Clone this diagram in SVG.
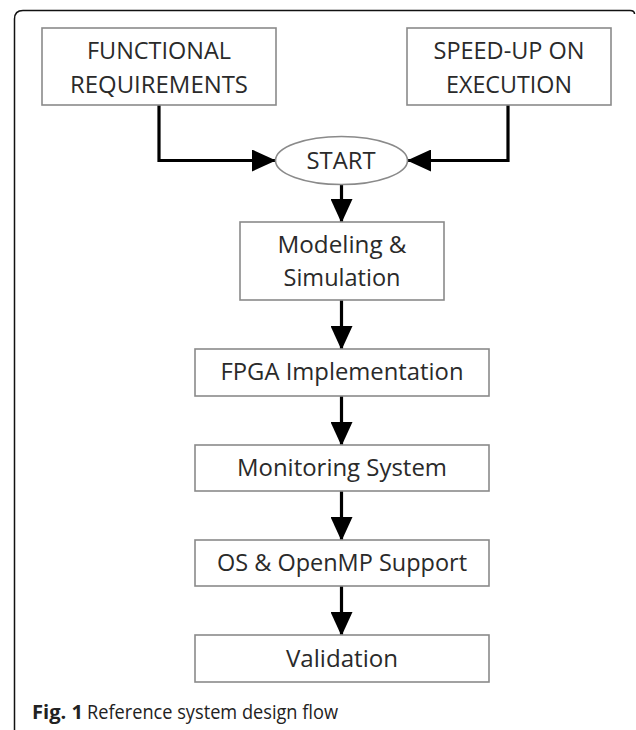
<svg xmlns="http://www.w3.org/2000/svg" width="636" height="730" viewBox="0 0 636 730">
<defs>
<style>
.box{fill:#fff;stroke:#8a8a8a;stroke-width:1.6}
.lbl{font-family:"Open Sans","Liberation Sans",sans-serif;font-size:23px;fill:#2a2a2a;text-anchor:middle}
.conn{fill:none;stroke:#000;stroke-width:3.2}
.cap{font-family:"Open Sans","Liberation Sans",sans-serif;font-size:20px;fill:#222}
</style>
<marker id="ah" viewBox="0 0 24 22" refX="23" refY="11" markerWidth="24" markerHeight="22" markerUnits="userSpaceOnUse" orient="auto">
<path d="M0,0 L24,11 L0,22 Z" fill="#000"/>
</marker>
</defs>
<rect width="636" height="730" fill="#fff"/>
<path d="M14.5,730 V19 Q14.5,10.5 23,10.5 H630 Q634.5,10.5 634.5,14" fill="none" stroke="#111" stroke-width="1.5"/>
<g id="connectors">
<path class="conn" d="M159,105 V160.5 H275" marker-end="url(#ah)"/>
<path class="conn" d="M508,105 V160.5 H408" marker-end="url(#ah)"/>
<path class="conn" d="M341.5,184 V222" marker-end="url(#ah)"/>
<path class="conn" d="M341.5,300 V349" marker-end="url(#ah)"/>
<path class="conn" d="M341.5,396 V445" marker-end="url(#ah)"/>
<path class="conn" d="M341.5,491 V540" marker-end="url(#ah)"/>
<path class="conn" d="M341.5,586 V635" marker-end="url(#ah)"/>
</g>
<g id="functional">
<rect class="box" x="42" y="28" width="234" height="77"/>
<text class="lbl" x="159" y="59" textLength="144" lengthAdjust="spacingAndGlyphs">FUNCTIONAL</text>
<text class="lbl" x="159" y="93" textLength="178" lengthAdjust="spacingAndGlyphs">REQUIREMENTS</text>
</g>
<g id="speedup">
<rect class="box" x="407" y="28" width="204" height="77"/>
<text class="lbl" x="509" y="59" textLength="151" lengthAdjust="spacingAndGlyphs">SPEED-UP ON</text>
<text class="lbl" x="509" y="93" textLength="126" lengthAdjust="spacingAndGlyphs">EXECUTION</text>
</g>
<g id="start">
<ellipse cx="341.5" cy="160.5" rx="66" ry="24" fill="#fff" stroke="#8a8a8a" stroke-width="1.6"/>
<text class="lbl" x="341" y="169" textLength="69" lengthAdjust="spacingAndGlyphs">START</text>
</g>
<g id="modeling">
<rect class="box" x="240" y="222" width="204" height="78"/>
<text class="lbl" x="342" y="253" textLength="129" lengthAdjust="spacingAndGlyphs">Modeling &amp;</text>
<text class="lbl" x="342" y="286" textLength="117" lengthAdjust="spacingAndGlyphs">Simulation</text>
</g>
<g id="fpga">
<rect class="box" x="195" y="349" width="294" height="47"/>
<text class="lbl" x="342" y="380" textLength="243" lengthAdjust="spacingAndGlyphs">FPGA Implementation</text>
</g>
<g id="monitoring">
<rect class="box" x="195" y="445" width="294" height="46"/>
<text class="lbl" x="342" y="476" textLength="210" lengthAdjust="spacingAndGlyphs">Monitoring System</text>
</g>
<g id="os">
<rect class="box" x="195" y="540" width="294" height="46"/>
<text class="lbl" x="342" y="571" textLength="250" lengthAdjust="spacingAndGlyphs">OS &amp; OpenMP Support</text>
</g>
<g id="validation">
<rect class="box" x="195" y="635" width="294" height="47"/>
<text class="lbl" x="342" y="667" textLength="112" lengthAdjust="spacingAndGlyphs">Validation</text>
</g>
<g id="caption">
<text class="cap" x="32" y="719" font-weight="bold" textLength="51" lengthAdjust="spacingAndGlyphs">Fig. 1</text>
<text class="cap" x="87" y="719" textLength="251" lengthAdjust="spacingAndGlyphs">Reference system design flow</text>
</g>
</svg>
